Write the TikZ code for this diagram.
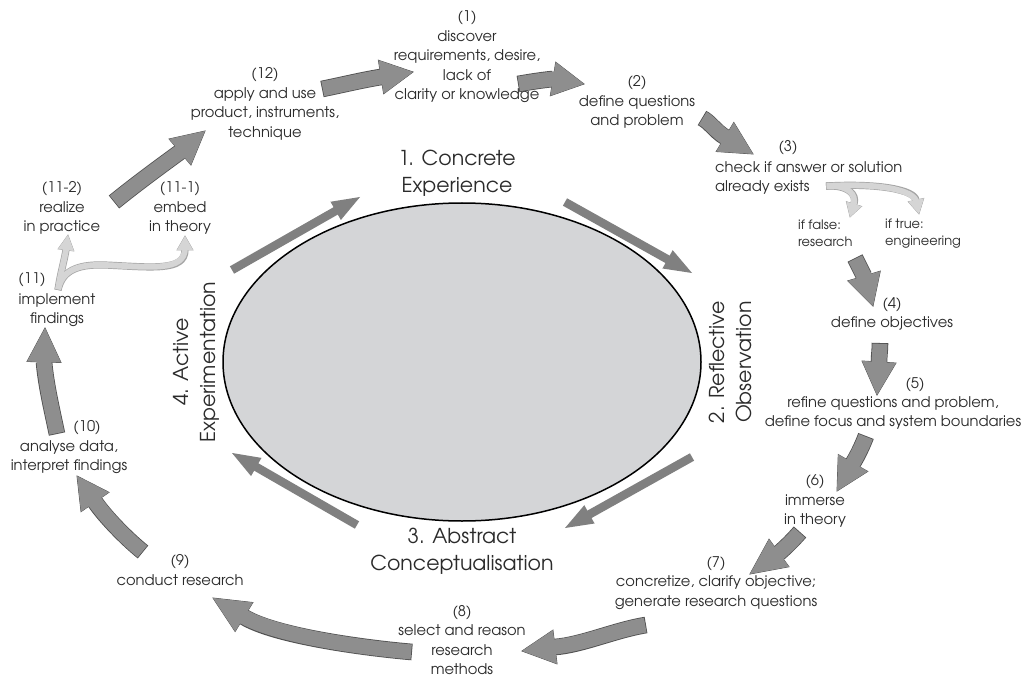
\documentclass[tikz,border=0pt]{standalone}
\usepackage{fontspec}
\setmainfont{TeX Gyre Adventor}
\usetikzlibrary{calc,shapes.geometric}
\definecolor{arrowgray}{HTML}{8E8E8E}
\definecolor{edgegray}{HTML}{505050}
\definecolor{innergray}{HTML}{808080}
\definecolor{ellfill}{HTML}{D4D5D7}
\definecolor{lightfill}{HTML}{D5D5D5}
\definecolor{lightedge}{HTML}{A5A5A5}
\definecolor{textcol}{HTML}{2B2B2B}
\tikzset{
  steptext/.style={inner sep=0pt, align=center, text=textcol, font=\fontsize{14.7}{19.5}\selectfont},
  smalltext/.style={inner sep=0pt, align=left, text=textcol, font=\fontsize{13}{17}\selectfont},
  bigtext/.style={inner sep=0pt, align=center, text=textcol, font=\fontsize{20.5}{27}\selectfont},
  bigedge/.style={draw=edgegray, line width=16.6pt},
  bigbody/.style={draw=arrowgray, line width=15pt, shorten >=-3pt, shorten <=0.8pt},
  headedge/.style={fill=arrowgray, draw=edgegray, line width=0.8pt, line join=miter},
  headbody/.style={fill=arrowgray},
  innershaft/.style={draw=innergray, line width=8.5pt, shorten >=-1pt},
  innerhead/.style={fill=innergray},
  lightedgeline/.style={draw=lightedge, line width=7.2pt},
  lightbody/.style={draw=lightfill, line width=5.8pt, shorten >=-2pt, shorten <=0.7pt},
  lighthead/.style={fill=lightfill, draw=lightedge, line width=0.7pt, line join=miter},
  lightheadbody/.style={fill=lightfill},
}
% big block arrow: start, ctrl1, ctrl2, base, tip (coordinate names)
\newcommand\bigarrow[5]{%
  \draw[bigedge] (#1) .. controls (#2) and (#3) .. (#4);
  \path[headedge] (#5) -- ($(#4)!17pt!90:(#5)$) -- ($(#4)!17pt!-90:(#5)$) -- cycle;
  \draw[bigbody] (#1) .. controls (#2) and (#3) .. (#4);
  \path[headbody] (#5) -- ($(#4)!17pt!90:(#5)$) -- ($(#4)!17pt!-90:(#5)$) -- cycle;
}
% inner straight arrow: start, tip
\newcommand\innerarrow[2]{%
  \coordinate (#2-b) at ($(#2)!28pt!(#1)$);
  \draw[innershaft] (#1) -- (#2-b);
  \fill[innerhead] (#2) -- ($(#2-b)!10.5pt!90:(#2)$) -- ($(#2-b)!10.5pt!-90:(#2)$) -- cycle;
}
\newcommand\lightheadpath[3]{(#2) -- ($(#1)!8pt!90:(#2)$) -- ($(#1)!8pt!-90:(#2)$) -- cycle}
\begin{document}
\begin{tikzpicture}[x=1pt,y=-1pt]
\useasboundingbox[fill=white] (0,0) rectangle (1031,679);

% ellipse
\node[ellipse, draw=black, fill=ellfill, line width=1.5pt, minimum width=478pt, minimum height=318pt, inner sep=0pt] (ell) at (462,362) {};

% inner arrows
\coordinate (i1s) at (232,270); \coordinate (i1t) at (360,197);
\coordinate (i2s) at (565,202); \coordinate (i2t) at (692,273);
\coordinate (i3s) at (692,457); \coordinate (i3t) at (565,528);
\coordinate (i4s) at (357,525); \coordinate (i4t) at (232,453);
\innerarrow{i1s}{i1t}
\innerarrow{i2s}{i2t}
\innerarrow{i3s}{i3t}
\innerarrow{i4s}{i4t}

% big labels
\node[bigtext] (L1) at (457,173) {1. Concrete\\Experience};
\node[bigtext, rotate=90] (L2) at (730,362) {2. Reflective\\Observation};
\node[bigtext] (L3) at (462,551) {3. Abstract\\Conceptualisation};
\node[bigtext, rotate=90] (L4) at (196,362) {4. Active\\Experimentation};

% step texts
\node[steptext] (n1) at (467,57) {(1)\\discover\\requirements, desire,\\lack of\\clarity or knowledge};
\node[steptext] (n2) at (637,102) {(2)\\define questions\\and problem};
\node[steptext] (n3num) at (788,148) {(3)};
\node[steptext, align=left, anchor=west] (n3) at (715,178) {check if answer or solution\\already exists};
\node[smalltext, anchor=west] (nfalse) at (798,233.5) {if false:\\research};
\node[smalltext, anchor=west] (ntrue) at (885,233.5) {if true:\\engineering};
\node[steptext] (n4) at (892,314) {(4)\\define objectives};
\node[steptext] (n5num) at (915,385) {(5)};
\node[steptext] (n5) at (893,413) {refine questions and problem,\\define focus and system boundaries};
\node[steptext] (n6) at (815,501) {(6)\\immerse\\in theory};
\node[steptext] (n7) at (716,583) {(7)\\concretize, clarify objective;\\generate research questions};
\node[steptext] (n8) at (462,640) {(8)\\select and reason\\research\\methods};
\node[steptext] (n9) at (180,570) {(9)\\conduct research};
\node[steptext] (n10num) at (87,428) {(10)};
\node[steptext] (n10) at (69,457) {analyse data,\\interpret findings};
\node[steptext] (n11num) at (32,280) {(11)};
\node[steptext] (n11) at (57,310) {implement\\findings};
\node[steptext] (n112) at (62,208) {(11-2)\\realize\\in practice};
\node[steptext] (n111) at (180,208) {(11-1)\\embed\\in theory};
\node[steptext] (n12) at (265,104) {(12)\\apply and use\\product, instruments,\\technique};

% big arrows
\coordinate (a1s) at (322,89); \coordinate (a1c) at (342,85); \coordinate (a1d) at (362,80); \coordinate (a1b) at (381,77); \coordinate (a1t) at (413,72);
\coordinate (a2s) at (518,84); \coordinate (a2c) at (530,82); \coordinate (a2d) at (542,80); \coordinate (a2b) at (553,79); \coordinate (a2t) at (584,84);
\coordinate (a3s) at (702,118); \coordinate (a3c) at (710,122); \coordinate (a3d) at (715,131); \coordinate (a3b) at (725,137); \coordinate (a3t) at (753,154);
\coordinate (a4s) at (855,258); \coordinate (a4c) at (858,264); \coordinate (a4d) at (861,270); \coordinate (a4b) at (864,276); \coordinate (a4t) at (873,306);
\coordinate (a5s) at (880,343); \coordinate (a5c) at (880,350); \coordinate (a5d) at (879,356); \coordinate (a5b) at (879,362); \coordinate (a5t) at (877,395);
\coordinate (a6s) at (866,436); \coordinate (a6c) at (863,444); \coordinate (a6d) at (858,455); \coordinate (a6b) at (853,463); \coordinate (a6t) at (837,491);
\coordinate (a7s) at (800,532); \coordinate (a7c) at (793,540); \coordinate (a7d) at (786,547); \coordinate (a7b) at (779,553); \coordinate (a7t) at (750,574);
\coordinate (a8s) at (646,625); \coordinate (a8c) at (615,630); \coordinate (a8d) at (582,645); \coordinate (a8b) at (555,647); \coordinate (a8t) at (522,651);
\coordinate (a9s) at (412,652); \coordinate (a9c) at (365,648); \coordinate (a9d) at (275,636); \coordinate (a9b) at (244,617); \coordinate (a9t) at (213,598);
\coordinate (a10s) at (143,552); \coordinate (a10c) at (128,540); \coordinate (a10d) at (106,518); \coordinate (a10b) at (95,502); \coordinate (a10t) at (77,476);
\coordinate (a11s) at (57,434); \coordinate (a11c) at (52,410); \coordinate (a11d) at (46,385); \coordinate (a11b) at (44,362); \coordinate (a11t) at (45,328);
\coordinate (a12s) at (114,202); \coordinate (a12c) at (135,185); \coordinate (a12d) at (158,168); \coordinate (a12b) at (180,152); \coordinate (a12t) at (205,131);
\foreach \k in {1,...,12}{\bigarrow{a\k s}{a\k c}{a\k d}{a\k b}{a\k t}}

% light branching arrows at (3)
\coordinate (b3s) at (826,186);
\coordinate (b3ab) at (854,204); \coordinate (b3at) at (850,217);
\coordinate (b3bb) at (916,200); \coordinate (b3bt) at (919,214);
\draw[lightedgeline] (b3s) .. controls (848,185) and (857,194) .. (b3ab);
\draw[lightedgeline] (b3s) .. controls (880,183) and (914,190) .. (b3bb);
\path[lighthead] \lightheadpath{b3ab}{b3at}{};
\path[lighthead] \lightheadpath{b3bb}{b3bt}{};
\draw[lightbody] (b3s) .. controls (848,185) and (857,194) .. (b3ab);
\draw[lightbody] (b3s) .. controls (880,183) and (914,190) .. (b3bb);
\path[lightheadbody] \lightheadpath{b3ab}{b3at}{};
\path[lightheadbody] \lightheadpath{b3bb}{b3bt}{};

% light branching arrows at (11)
\coordinate (b11s) at (58,290);
\coordinate (b11ab) at (66,250); \coordinate (b11at) at (68,235);
\coordinate (b11m) at (105,265);
\coordinate (b11bb) at (185,250); \coordinate (b11bt) at (185,236);
\draw[lightedgeline] (b11s) .. controls (60,275) and (64,262) .. (b11ab);
\draw[lightedgeline] (b11s) .. controls (62,272) and (75,264) .. (b11m) .. controls (150,267) and (185,272) .. (b11bb);
\path[lighthead] \lightheadpath{b11ab}{b11at}{};
\path[lighthead] \lightheadpath{b11bb}{b11bt}{};
\draw[lightbody] (b11s) .. controls (60,275) and (64,262) .. (b11ab);
\draw[lightbody] (b11s) .. controls (62,272) and (75,264) .. (b11m) .. controls (150,267) and (185,272) .. (b11bb);
\path[lightheadbody] \lightheadpath{b11ab}{b11at}{};
\path[lightheadbody] \lightheadpath{b11bb}{b11bt}{};
\end{tikzpicture}
\end{document}
